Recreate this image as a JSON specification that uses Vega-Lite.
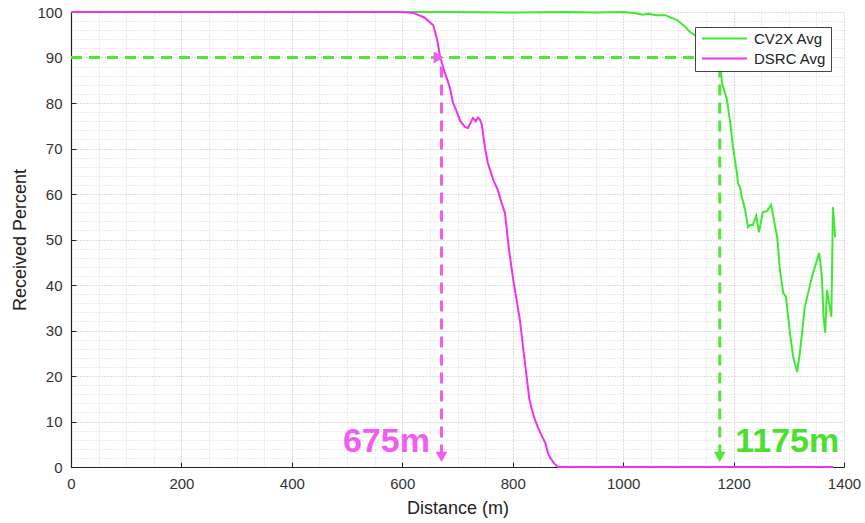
{
  "$schema": "https://vega.github.io/schema/vega-lite/v6.json",
  "width": 773,
  "height": 455,
  "autosize": {"type": "none"},
  "padding": {"left": 71, "top": 12, "right": 21, "bottom": 56},
  "background": "white",
  "config": {
    "view": {"stroke": null},
    "font": "Liberation Sans"
  },
  "encoding": {
    "x": {
      "field": "x", "type": "quantitative", "title": "Distance (m)",
      "scale": {"domain": [0, 1400], "nice": false, "zero": false},
      "axis": {
        "values": [0,50,100,150,200,250,300,350,400,450,500,550,600,650,700,750,800,850,900,950,1000,1050,1100,1150,1200,1250,1300,1350,1400],
        "format": "d",
        "labelExpr": "datum.value % 200 === 0 ? datum.label : ''",
        "labelOverlap": false, "labelFlush": false,
        "labelFont": "Liberation Sans", "labelFontSize": 15, "labelColor": "#333", "labelPadding": 14,
        "tickSize": -5, "tickColor": "#222",
        "tickOpacity": {"condition": {"test": "datum.value % 200 === 0", "value": 1}, "value": 0},
        "domainColor": "#222", "domainWidth": 1.2,
        "grid": true, "gridDash": [1, 2], "gridWidth": 1,
        "gridColor": {"condition": {"test": "datum.value % 200 === 0", "value": "#bbbbbb"}, "value": "#d6d6d6"},
        "titleFont": "Liberation Sans", "titleFontSize": 18, "titleFontWeight": "normal", "titleColor": "#222", "titlePadding": 8
      }
    },
    "y": {
      "field": "y", "type": "quantitative", "title": "Received Percent",
      "scale": {"domain": [0, 100], "nice": false, "zero": false},
      "axis": {
        "values": [0,2,4,6,8,10,12,14,16,18,20,22,24,26,28,30,32,34,36,38,40,42,44,46,48,50,52,54,56,58,60,62,64,66,68,70,72,74,76,78,80,82,84,86,88,90,92,94,96,98,100],
        "format": "d",
        "labelExpr": "datum.value % 10 === 0 ? datum.label : ''",
        "labelOverlap": false, "labelFlush": false,
        "labelFont": "Liberation Sans", "labelFontSize": 15, "labelColor": "#333", "labelPadding": 14,
        "tickSize": -5, "tickColor": "#222",
        "tickOpacity": {"condition": {"test": "datum.value % 10 === 0", "value": 1}, "value": 0},
        "domainColor": "#222", "domainWidth": 1.2,
        "grid": true, "gridDash": [1, 2], "gridWidth": 1,
        "gridColor": {"condition": {"test": "datum.value % 10 === 0", "value": "#bbbbbb"}, "value": "#d6d6d6"},
        "titleFont": "Liberation Sans", "titleFontSize": 18, "titleFontWeight": "normal", "titleColor": "#222", "titlePadding": 7
      }
    }
  },
  "layer": [
    {
      "data": {"values": [
        {"series":"CV2X Avg","x":0,"y":100},{"series":"CV2X Avg","x":100,"y":100},{"series":"CV2X Avg","x":200,"y":100},{"series":"CV2X Avg","x":300,"y":100},{"series":"CV2X Avg","x":400,"y":100},{"series":"CV2X Avg","x":500,"y":100},{"series":"CV2X Avg","x":600,"y":100},{"series":"CV2X Avg","x":700,"y":100},{"series":"CV2X Avg","x":800,"y":99.9},{"series":"CV2X Avg","x":900,"y":100},{"series":"CV2X Avg","x":950,"y":99.9},{"series":"CV2X Avg","x":1000,"y":100},{"series":"CV2X Avg","x":1020,"y":99.8},{"series":"CV2X Avg","x":1035,"y":99.4},{"series":"CV2X Avg","x":1045,"y":99.6},{"series":"CV2X Avg","x":1060,"y":99.3},{"series":"CV2X Avg","x":1076,"y":99.3},{"series":"CV2X Avg","x":1090,"y":98.6},{"series":"CV2X Avg","x":1098,"y":98.2},{"series":"CV2X Avg","x":1110,"y":97},{"series":"CV2X Avg","x":1121,"y":95.6},{"series":"CV2X Avg","x":1130,"y":94.9},{"series":"CV2X Avg","x":1140,"y":93.5},{"series":"CV2X Avg","x":1150,"y":92.5},{"series":"CV2X Avg","x":1160,"y":91.5},{"series":"CV2X Avg","x":1170,"y":90.5},{"series":"CV2X Avg","x":1176,"y":89},{"series":"CV2X Avg","x":1179,"y":84.4},{"series":"CV2X Avg","x":1188,"y":80.7},{"series":"CV2X Avg","x":1194,"y":75.6},{"series":"CV2X Avg","x":1199,"y":70.3},{"series":"CV2X Avg","x":1206,"y":64.6},{"series":"CV2X Avg","x":1208,"y":62.4},{"series":"CV2X Avg","x":1212,"y":61.3},{"series":"CV2X Avg","x":1215,"y":59.3},{"series":"CV2X Avg","x":1221,"y":56.5},{"series":"CV2X Avg","x":1226,"y":52.7},{"series":"CV2X Avg","x":1230,"y":53.2},{"series":"CV2X Avg","x":1235,"y":53.2},{"series":"CV2X Avg","x":1241,"y":55.2},{"series":"CV2X Avg","x":1246,"y":51.6},{"series":"CV2X Avg","x":1253,"y":56},{"series":"CV2X Avg","x":1261,"y":56.3},{"series":"CV2X Avg","x":1268,"y":57.6},{"series":"CV2X Avg","x":1272,"y":55},{"series":"CV2X Avg","x":1279,"y":50.5},{"series":"CV2X Avg","x":1284,"y":43.3},{"series":"CV2X Avg","x":1290,"y":38.2},{"series":"CV2X Avg","x":1295,"y":37.4},{"series":"CV2X Avg","x":1302,"y":29.5},{"series":"CV2X Avg","x":1308,"y":24.2},{"series":"CV2X Avg","x":1315,"y":20.9},{"series":"CV2X Avg","x":1320,"y":25},{"series":"CV2X Avg","x":1329,"y":35.2},{"series":"CV2X Avg","x":1342,"y":41.8},{"series":"CV2X Avg","x":1355,"y":47},{"series":"CV2X Avg","x":1360,"y":41.8},{"series":"CV2X Avg","x":1363,"y":33},{"series":"CV2X Avg","x":1366,"y":29.5},{"series":"CV2X Avg","x":1369,"y":38.9},{"series":"CV2X Avg","x":1373,"y":36},{"series":"CV2X Avg","x":1377,"y":33},{"series":"CV2X Avg","x":1378,"y":40.4},{"series":"CV2X Avg","x":1380,"y":57.1},{"series":"CV2X Avg","x":1384,"y":50.5},
        {"series":"DSRC Avg","x":0,"y":100},{"series":"DSRC Avg","x":100,"y":100},{"series":"DSRC Avg","x":200,"y":100},{"series":"DSRC Avg","x":300,"y":100},{"series":"DSRC Avg","x":400,"y":100},{"series":"DSRC Avg","x":500,"y":100},{"series":"DSRC Avg","x":600,"y":100},{"series":"DSRC Avg","x":620,"y":99.8},{"series":"DSRC Avg","x":640,"y":98.8},{"series":"DSRC Avg","x":656,"y":97.1},{"series":"DSRC Avg","x":663,"y":94},{"series":"DSRC Avg","x":668,"y":90.5},{"series":"DSRC Avg","x":676,"y":87},{"series":"DSRC Avg","x":686,"y":83.5},{"series":"DSRC Avg","x":692,"y":80},{"series":"DSRC Avg","x":699,"y":78},{"series":"DSRC Avg","x":705,"y":76},{"series":"DSRC Avg","x":714,"y":74.7},{"series":"DSRC Avg","x":719,"y":74.5},{"series":"DSRC Avg","x":723,"y":75.5},{"series":"DSRC Avg","x":728,"y":76.7},{"series":"DSRC Avg","x":733,"y":76},{"series":"DSRC Avg","x":737,"y":76.8},{"series":"DSRC Avg","x":741,"y":76.3},{"series":"DSRC Avg","x":744,"y":75.2},{"series":"DSRC Avg","x":750,"y":70},{"series":"DSRC Avg","x":755,"y":66.8},{"series":"DSRC Avg","x":765,"y":63},{"series":"DSRC Avg","x":773,"y":60.9},{"series":"DSRC Avg","x":780,"y":58},{"series":"DSRC Avg","x":786,"y":55.8},{"series":"DSRC Avg","x":793,"y":48},{"series":"DSRC Avg","x":801,"y":41.1},{"series":"DSRC Avg","x":808,"y":36},{"series":"DSRC Avg","x":813,"y":32.3},{"series":"DSRC Avg","x":820,"y":25},{"series":"DSRC Avg","x":826,"y":19.1},{"series":"DSRC Avg","x":830,"y":15},{"series":"DSRC Avg","x":835,"y":12.5},{"series":"DSRC Avg","x":840,"y":10.5},{"series":"DSRC Avg","x":846,"y":8.6},{"series":"DSRC Avg","x":852,"y":7},{"series":"DSRC Avg","x":859,"y":5.3},{"series":"DSRC Avg","x":864,"y":3},{"series":"DSRC Avg","x":868,"y":2},{"series":"DSRC Avg","x":875,"y":0.8},{"series":"DSRC Avg","x":882,"y":0},{"series":"DSRC Avg","x":1000,"y":0},{"series":"DSRC Avg","x":1100,"y":0},{"series":"DSRC Avg","x":1200,"y":0},{"series":"DSRC Avg","x":1300,"y":0},{"series":"DSRC Avg","x":1380,"y":0}
      ]},
      "mark": {"type": "line", "strokeWidth": 2, "clip": false},
      "encoding": {
        "color": {
          "field": "series", "type": "nominal",
          "scale": {"domain": ["CV2X Avg", "DSRC Avg"], "range": ["#3fe833", "#ee33ee"]},
          "legend": {
            "orient": "none", "legendX": 624, "legendY": 15, "title": null,
            "symbolType": "M-4.5,0H4.5", "symbolSize": 100, "symbolStrokeWidth": 2, "symbolOffset": 18,
            "labelFont": "Liberation Sans", "labelFontSize": 15, "labelColor": "#222", "labelOffset": 22,
            "strokeColor": "#444", "fillColor": "white", "padding": 4, "rowPadding": 4
          }
        }
      }
    },
    {
      "data": {"values": [{"x": 0, "x2": 1163, "y": 90}]},
      "mark": {"type": "rule", "color": "#55e33a", "strokeWidth": 3, "strokeDash": [11, 7]},
      "encoding": {"x2": {"field": "x2"}}
    },
    {
      "data": {"values": [{"x": 671, "y": 88, "y2": 3}]},
      "mark": {"type": "rule", "color": "#f25cf0", "strokeWidth": 3, "strokeDash": [11, 7]},
      "encoding": {"y2": {"field": "y2"}}
    },
    {
      "data": {"values": [{"x": 1175, "y": 88, "y2": 3}]},
      "mark": {"type": "rule", "color": "#55e33a", "strokeWidth": 3, "strokeDash": [11, 7]},
      "encoding": {"y2": {"field": "y2"}}
    },
    {
      "data": {"values": [{"x": 671, "y": 2.2}]},
      "mark": {"type": "point", "shape": "triangle-down", "filled": true, "size": 140, "color": "#f25cf0", "opacity": 1},
      "encoding": {}
    },
    {
      "data": {"values": [{"x": 666, "y": 90}]},
      "mark": {"type": "point", "shape": "triangle-right", "filled": true, "size": 140, "color": "#f25cf0", "opacity": 1},
      "encoding": {}
    },
    {
      "data": {"values": [{"x": 1175, "y": 2.2}, {"x": 1168, "y": 90}]},
      "mark": {"type": "point", "filled": true, "size": 140, "color": "#55e33a", "opacity": 1},
      "encoding": {"shape": {"field": "y", "type": "quantitative", "legend": null, "scale": {"type": "threshold", "domain": [50], "range": ["triangle-down", "triangle-right"]}}}
    },
    {
      "data": {"values": [{"x": 650, "y": 3.3, "label": "675m"}]},
      "mark": {"type": "text", "align": "right", "baseline": "alphabetic", "font": "Liberation Sans", "fontWeight": "bold", "fontSize": 34, "color": "#f25cf0"},
      "encoding": {"text": {"field": "label"}}
    },
    {
      "data": {"values": [{"x": 1203, "y": 3.3, "label": "1175m"}]},
      "mark": {"type": "text", "align": "left", "baseline": "alphabetic", "font": "Liberation Sans", "fontWeight": "bold", "fontSize": 34, "color": "#4ce02e"},
      "encoding": {"text": {"field": "label"}}
    }
  ]
}
